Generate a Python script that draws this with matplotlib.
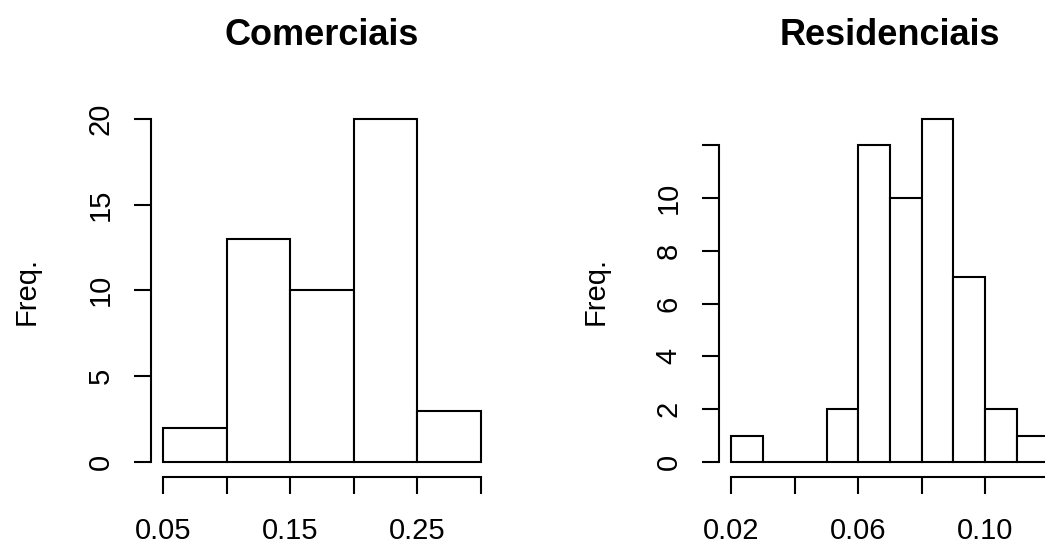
import matplotlib
matplotlib.use("Agg")
import matplotlib.pyplot as plt

plt.rcParams["font.family"] = ["Liberation Sans", "DejaVu Sans"]

# histogram data (bin edges + counts)
com_edges = [0.05, 0.10, 0.15, 0.20, 0.25, 0.30]
com_counts = [2, 13, 10, 20, 3]
com_xticks = [0.05, 0.10, 0.15, 0.20, 0.25, 0.30]
com_xlabels = ["0.05", "", "0.15", "", "0.25", ""]
com_yticks = [0, 5, 10, 15, 20]
com_ylabels = ["0", "5", "10", "15", "20"]

res_edges = [0.02, 0.03, 0.04, 0.05, 0.06, 0.07, 0.08, 0.09, 0.10, 0.11, 0.12]
res_counts = [1, 0, 0, 2, 12, 10, 13, 7, 2, 1]
res_xticks = [0.02, 0.04, 0.06, 0.08, 0.10, 0.12]
res_xlabels = ["0.02", "", "0.06", "", "0.10", ""]
res_yticks = [0, 2, 4, 6, 8, 10, 12]
res_ylabels = ["0", "2", "4", "6", "8", "10", ""]

W, H = 1045, 546
fig = plt.figure(figsize=(W / 100, H / 100), dpi=100)

LW = 1.5
FS = 21


def px_axes(left, right, top, bottom):
    return fig.add_axes([left / W, 1 - bottom / H, (right - left) / W, (bottom - top) / H])


def hist_panel(ax, edges, counts, xticks, xlabels, yticks, ylabels, title):
    widths = [b - a for a, b in zip(edges[:-1], edges[1:])]
    ax.bar(edges[:-1], counts, width=widths, align="edge",
           facecolor="white", edgecolor="black", linewidth=LW)
    for s in ["top", "right"]:
        ax.spines[s].set_visible(False)
    ax.spines["left"].set_bounds(yticks[0], yticks[-1])
    ax.spines["bottom"].set_bounds(xticks[0], xticks[-1])
    for s in ["left", "bottom"]:
        ax.spines[s].set_linewidth(LW)
    ax.set_xticks(xticks)
    ax.set_xticklabels(xlabels)
    ax.set_yticks(yticks)
    ax.set_yticklabels(ylabels)
    ax.tick_params(axis="both", length=12.5, width=LW, labelsize=FS)
    ax.tick_params(axis="x", pad=16)
    ax.tick_params(axis="y", pad=13.5, labelrotation=90)
    for lab in ax.get_yticklabels():
        lab.set_va("center")
    ax.text(-0.36, 0.5, "Freq.", transform=ax.transAxes, rotation=90,
            ha="center", va="center", fontsize=FS)
    ax.set_title(title, fontsize=26, fontweight="bold", pad=0, y=1.0)
    ax.title.set_position((0.5, 1 + (105 - 45) / (477.3 - 105)))
    ax.title.set_va("baseline")


ax1 = px_axes(150.6, 493.7, 105, 477.3)
hist_panel(ax1, com_edges, com_counts, com_xticks, com_xlabels,
           com_yticks, com_ylabels, "Comerciais")
ax1.set_xlim(0.04, 0.31)
ax1.set_ylim(-0.891, 20.8)

ax2 = px_axes(718.6, 1061.4, 105, 477.3)
hist_panel(ax2, res_edges, res_counts, res_xticks, res_xlabels,
           res_yticks, res_ylabels, "Residenciais")
ax2.set_xlim(0.016, 0.124)
ax2.set_ylim(-0.58, 13.52)

fig.savefig("out.png", dpi=100)
